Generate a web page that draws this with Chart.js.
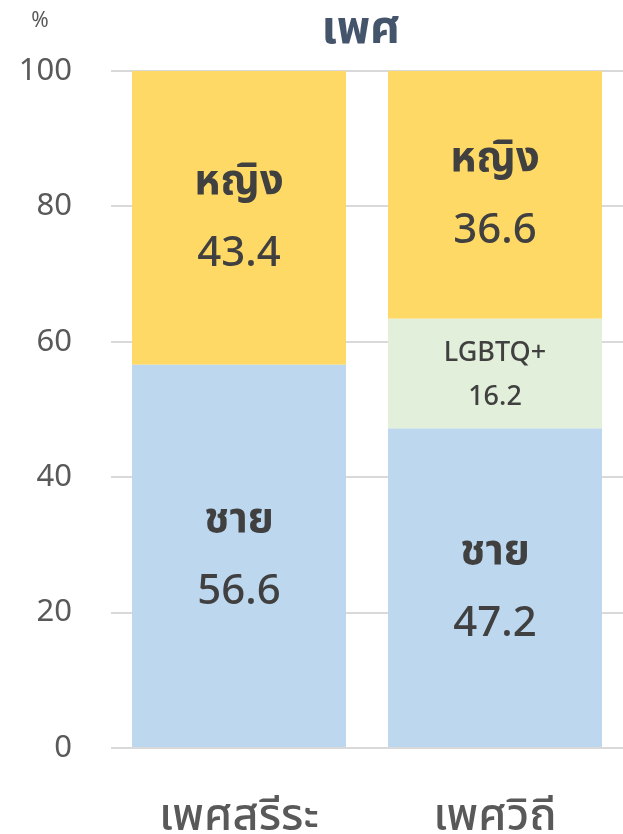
<!DOCTYPE html>
<html><head><meta charset="utf-8">
<script src="https://cdn.jsdelivr.net/npm/chart.js@4"></script>
<style>html,body{margin:0;padding:0;background:#fff}#wrap{width:623px;height:834px}</style>
</head><body><div id="wrap"><canvas id="c"></canvas></div>
<script>
const categories = ['เพศสรีระ', 'เพศวิถี'];
const seriesNames = ['ชาย', 'LGBTQ+', 'หญิง'];
const maleValues = [56.6, 47.2];
const lgbtValues = [null, 16.2];
const femaleValues = [43.4, 36.6];
const yTicks = [0, 20, 40, 60, 80, 100];
const chartTitle = 'เพศ';
const unitLabel = '%';
const FONT = '"Noto Sans", "Noto Sans Thai", sans-serif';

const labelPlugin = {
  id: 'segLabels',
  afterDatasetsDraw(chart) {
    const ctx = chart.ctx;
    const ca = chart.chartArea;
    ctx.save();
    ctx.textAlign = 'center';
    ctx.textBaseline = 'middle';
    ctx.fillStyle = '#404040';
    chart.data.datasets.forEach((ds, di) => {
      const meta = chart.getDatasetMeta(di);
      meta.data.forEach((bar, i) => {
        const v = ds.data[i];
        if (v == null) return;
        const cy = (bar.y + bar.base) / 2;
        const small = ds.label === 'LGBTQ+';
        if (small) {
          ctx.font = '500 27px ' + FONT;
          ctx.fillText(ds.label, bar.x, cy - 20);
          ctx.fillText(v.toFixed(1), bar.x, cy + 24);
        } else {
          ctx.font = 'bold 42px ' + FONT;
          ctx.fillText(ds.label, bar.x, cy - 36);
          ctx.font = '500 42px ' + FONT;
          ctx.fillText(v.toFixed(1), bar.x, cy + 36);
        }
      });
    });
    ctx.font = '21px ' + FONT;
    ctx.fillStyle = '#595959';
    ctx.fillText(unitLabel, 40, 21);
    ctx.font = 'bold 46px ' + FONT;
    ctx.fillStyle = '#44546A';
    ctx.fillText(chartTitle, (ca.left + ca.right) / 2 - 6, 30);
    ctx.restore();
  }
};

new Chart(document.getElementById('c'), {
  type: 'bar',
  data: {
    labels: categories,
    datasets: [
      { label: seriesNames[0], data: maleValues, backgroundColor: '#BDD7EE' },
      { label: seriesNames[1], data: lgbtValues, backgroundColor: '#E2EFDA' },
      { label: seriesNames[2], data: femaleValues, backgroundColor: '#FFD966' }
    ]
  },
  options: {
    responsive: true,
    maintainAspectRatio: false,
    animation: false,
    layout: { padding: { left: 0, right: 0, top: 71, bottom: 0 } },
    plugins: {
      legend: { display: false },
      tooltip: { enabled: false },
      title: { display: false }
    },
    datasets: { bar: { barPercentage: 0.836, categoryPercentage: 1.0, borderWidth: 0 } },
    scales: {
      x: {
        stacked: true,
        grid: { display: false, drawTicks: false },
        border: { display: false },
        ticks: { color: '#595959', font: { family: FONT, size: 45, weight: '500' }, padding: 42, maxRotation: 0 },
        afterFit: s => { s.height = 86; }
      },
      y: {
        stacked: true,
        min: 0, max: 100,
        afterBuildTicks: s => { s.ticks = yTicks.map(v => ({ value: v })); },
        grid: { color: '#D9D9D9', lineWidth: 2, drawTicks: false },
        border: { display: false },
        ticks: { color: '#595959', font: { family: FONT, size: 31 }, padding: 39 },
        afterFit: s => { s.width = 111; }
      }
    }
  },
  plugins: [labelPlugin]
});
</script></body></html>
